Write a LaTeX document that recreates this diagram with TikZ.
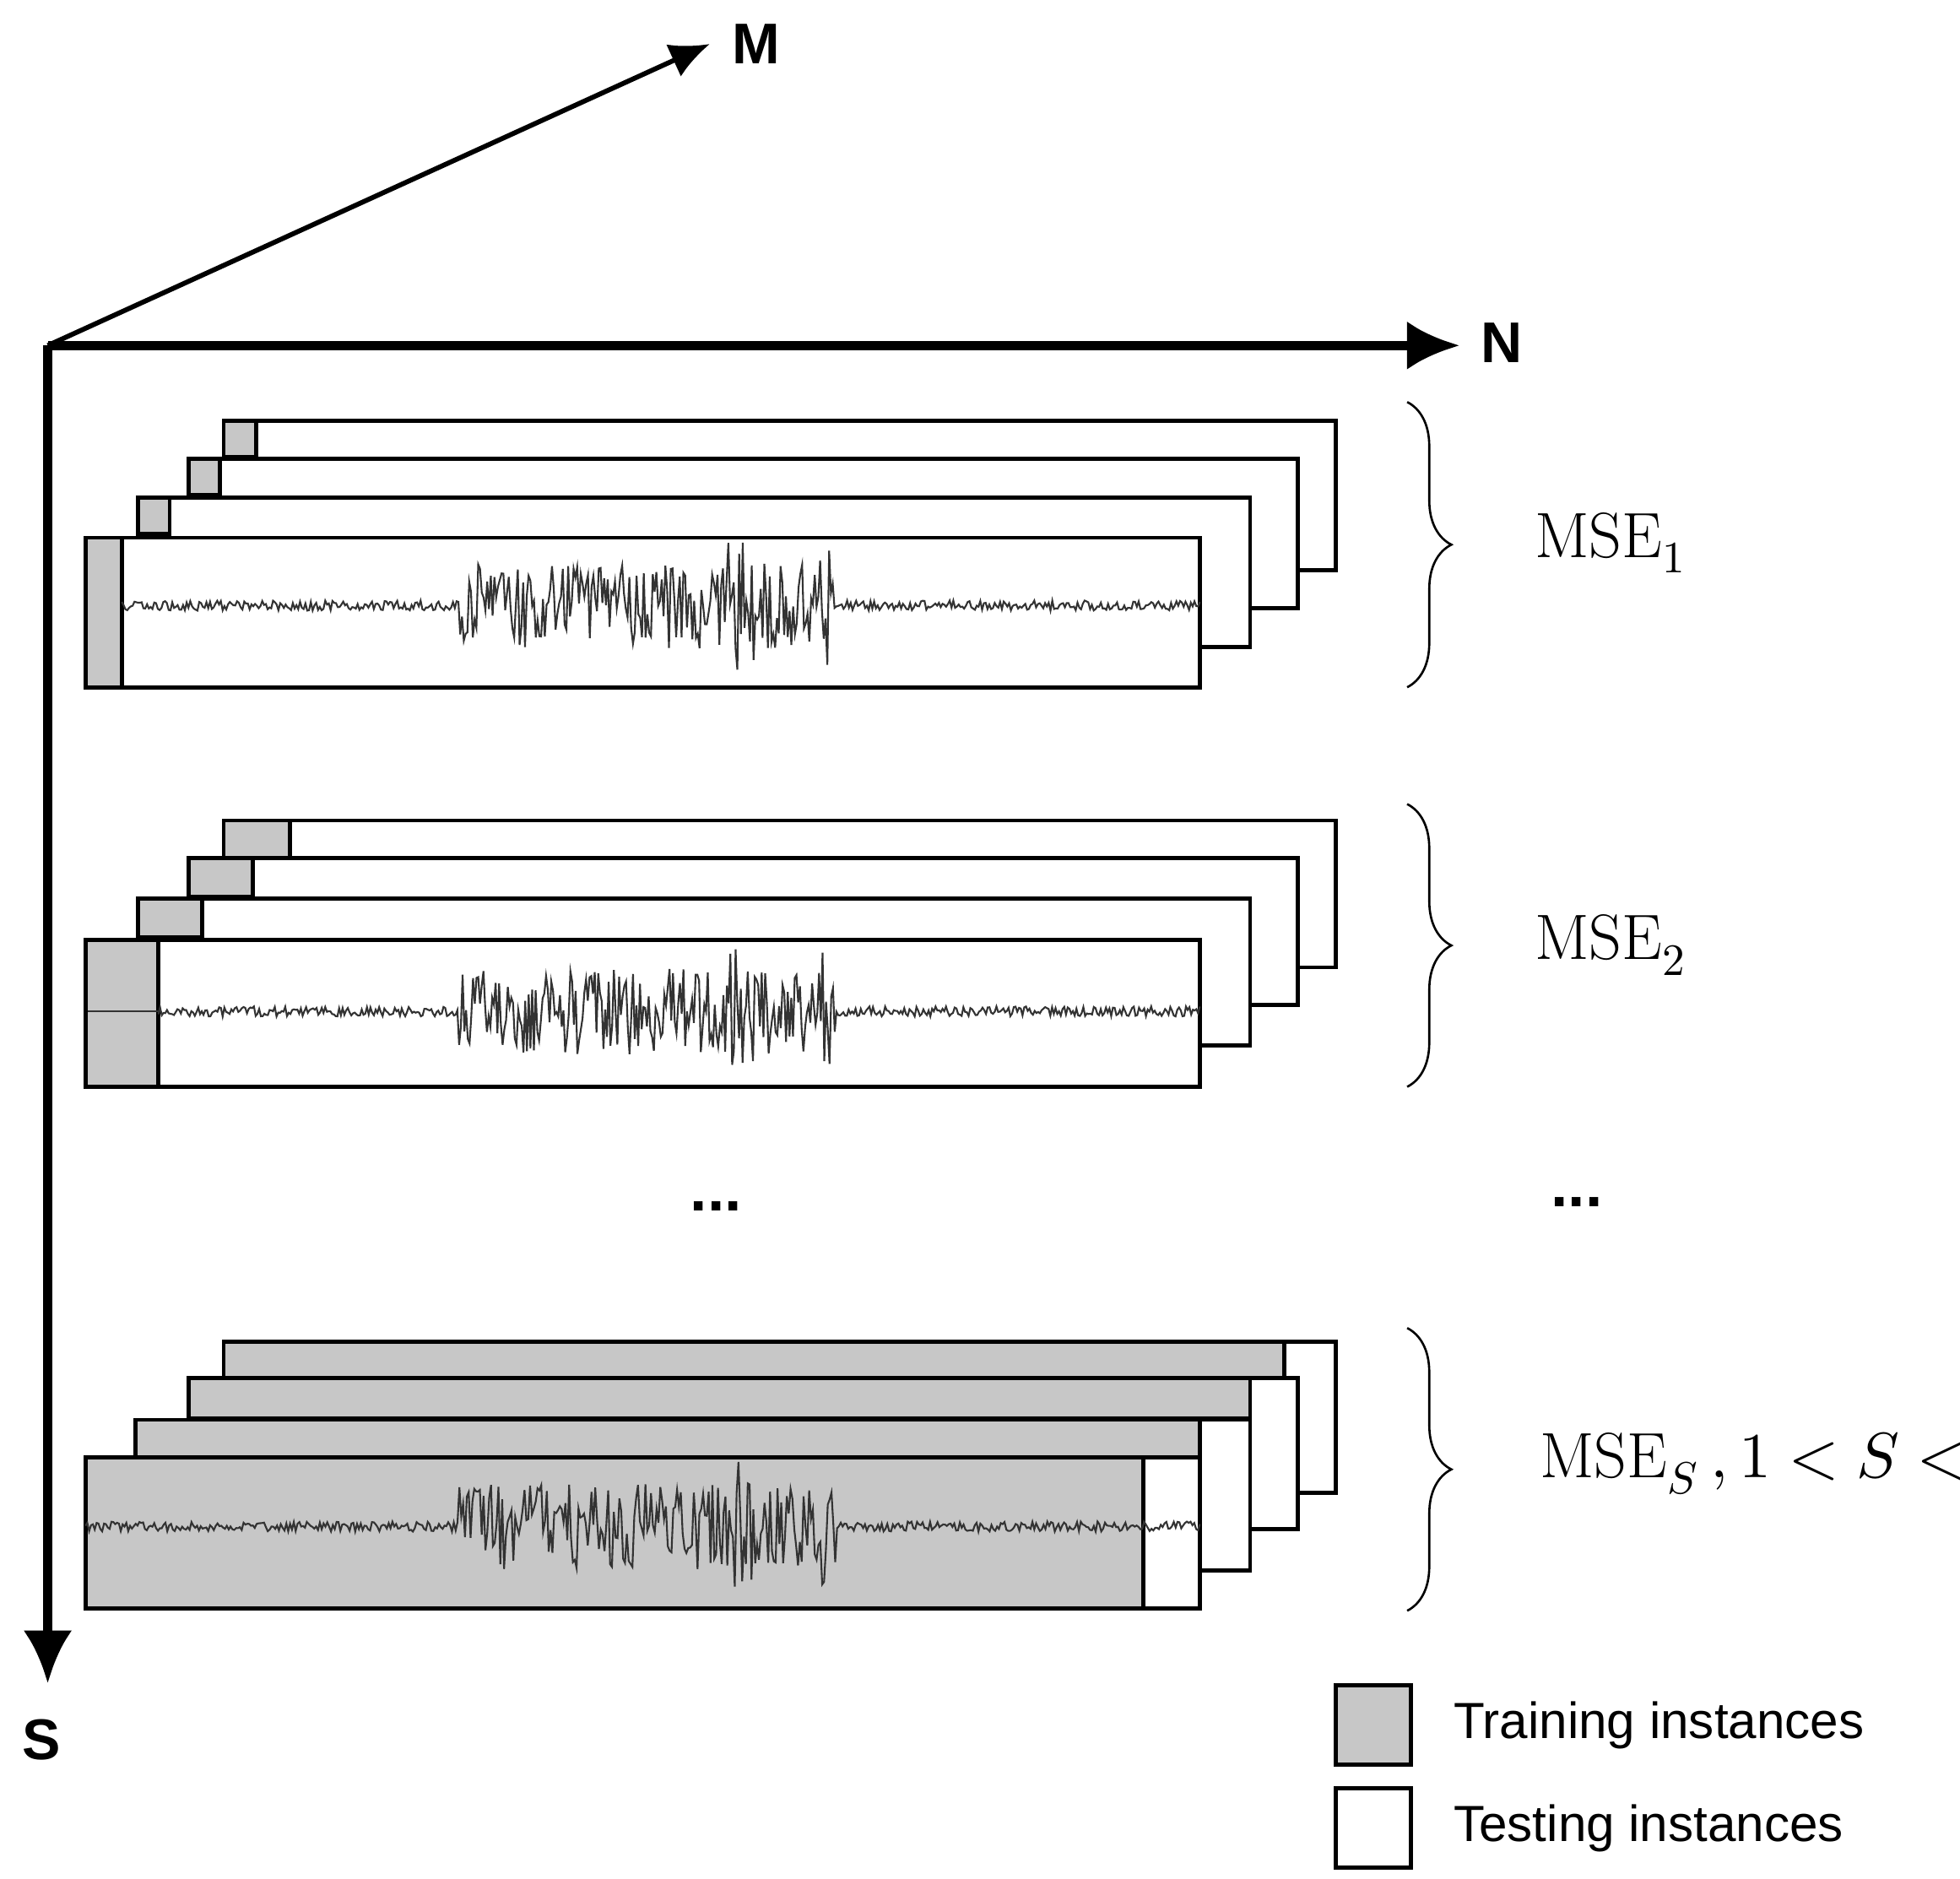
\documentclass[tikz,border=0pt]{standalone}
\usepackage{fontspec}
\setmainfont{Liberation Sans}
\usepackage{unicode-math}
\setmathfont{Latin Modern Math}
\setmathrm{Latin Modern Roman}
\usetikzlibrary{positioning, decorations.pathreplacing, arrows.meta}

\tikzset{
  layer/.style={draw=black, fill=white, line width=0.9pt},
  train/.style={draw=black, fill=black!22, line width=0.9pt},
  axis/.style={-{Latex[length=12pt,width=11pt]}, line width=2pt},
  wave/.style={line width=0.4pt, black!80},
  mse/.style={font=\fontsize{14.5}{17}\selectfont},
  lbl/.style={font=\fontsize{13}{16}\selectfont\bfseries},
  lgd/.style={font=\fontsize{11.5}{14}\selectfont}
}
% one seismic trace across a frame
\newcommand{\trace}[3]{%
  \draw[wave] plot[domain=#1:#2, samples=600]
    (\x, {#3 + (4 + 30*(\x>365)*(\x<665) + 18*(\x>575)*(\x<600) + 14*(\x>650)*(\x<662))*(2*rnd-1)});}

\begin{document}
\begin{tikzpicture}[x=0.01cm, y=-0.01cm]
\pgfmathsetseed{7}
\useasboundingbox (0,0) rectangle (1560,1495);

% axes
\coordinate (O) at (38,275);
\coordinate (Mend) at (565,35);
\coordinate (Nend) at (1162,275);
\coordinate (Send) at (38,1340);
\draw[-{Latex[length=9pt,width=8pt]}, line width=1.1pt] (O) -- (Mend);
\draw[axis] (O) -- (Nend);
\draw[axis] (O) -- (Send);
\node[lbl] (M) at (602,35) {M};
\node[lbl] (N) at (1195,273) {N};
\node[lbl] (S) at (33,1385) {S};

% group 1: growing training window
\foreach \xa/\xb/\dy/\w in {178/1063/-93/26, 150/1033/-63/25, 110/995/-32/25, 68/955/0/29}{
  \draw[layer] (\xa,428+\dy) rectangle (\xb,547+\dy);
  \draw[train] (\xa,428+\dy) rectangle (\xa+\w,{\dy<0 ? 428+\dy+29 : 547});
}
\trace{97}{955}{482}
\draw[decorate, decoration={brace, amplitude=10pt}, line width=0.5pt] (1120,320) -- (1120,547);
\node[mse] (mse1) at (1282,432) {$\mathrm{MSE}_1$};

% group 2
\foreach \xa/\xb/\dy/\w in {178/1063/-95/53, 150/1033/-65/51, 110/995/-33/51, 68/955/0/58}{
  \draw[layer] (\xa,748+\dy) rectangle (\xb,865+\dy);
  \draw[train] (\xa,748+\dy) rectangle (\xa+\w,{\dy<0 ? 748+\dy+31 : 865});
}
\trace{126}{955}{805}
\draw[black!80, line width=0.4pt] (70,805) -- (126,805);
\draw[decorate, decoration={brace, amplitude=10pt}, line width=0.5pt] (1120,640) -- (1120,865);
\node[mse] (mse2) at (1282,752) {$\mathrm{MSE}_2$};

% dots
\node[font=\fontsize{14}{16}\selectfont\bfseries] (d1) at (570,960) {...};
\node[font=\fontsize{14}{16}\selectfont\bfseries] (d2) at (1255,957) {...};

% group S
\foreach \xa/\xb/\dy/\g in {178/1063/-92/1022, 150/1033/-63/995, 108/995/-30/955, 68/955/0/910}{
  \draw[layer] (\xa,1160+\dy) rectangle (\xb,1280+\dy);
  \draw[train] (\xa,1160+\dy) rectangle (\g,{\dy<0 ? 1160+\dy+32 : 1280});
}
\trace{68}{955}{1215}
\draw[decorate, decoration={brace, amplitude=10pt}, line width=0.5pt] (1120,1057) -- (1120,1282);
\node[mse, anchor=west, inner sep=0pt] (mseS) at (1225,1165) {$\mathrm{MSE}_S\,, 1 < S < N$};

% legend
\node[train, minimum width=0.6cm, minimum height=0.63cm, inner sep=0pt] (ktrain) at (1093,1373) {};
\node[layer, minimum width=0.6cm, minimum height=0.63cm, inner sep=0pt] (ktest) at (1093,1455) {};
\node[lgd, anchor=west, right=0.2cm of ktrain] (ttrain) {Training instances};
\node[lgd, anchor=west, right=0.2cm of ktest] (ttest) {Testing instances};
\end{tikzpicture}
\end{document}
